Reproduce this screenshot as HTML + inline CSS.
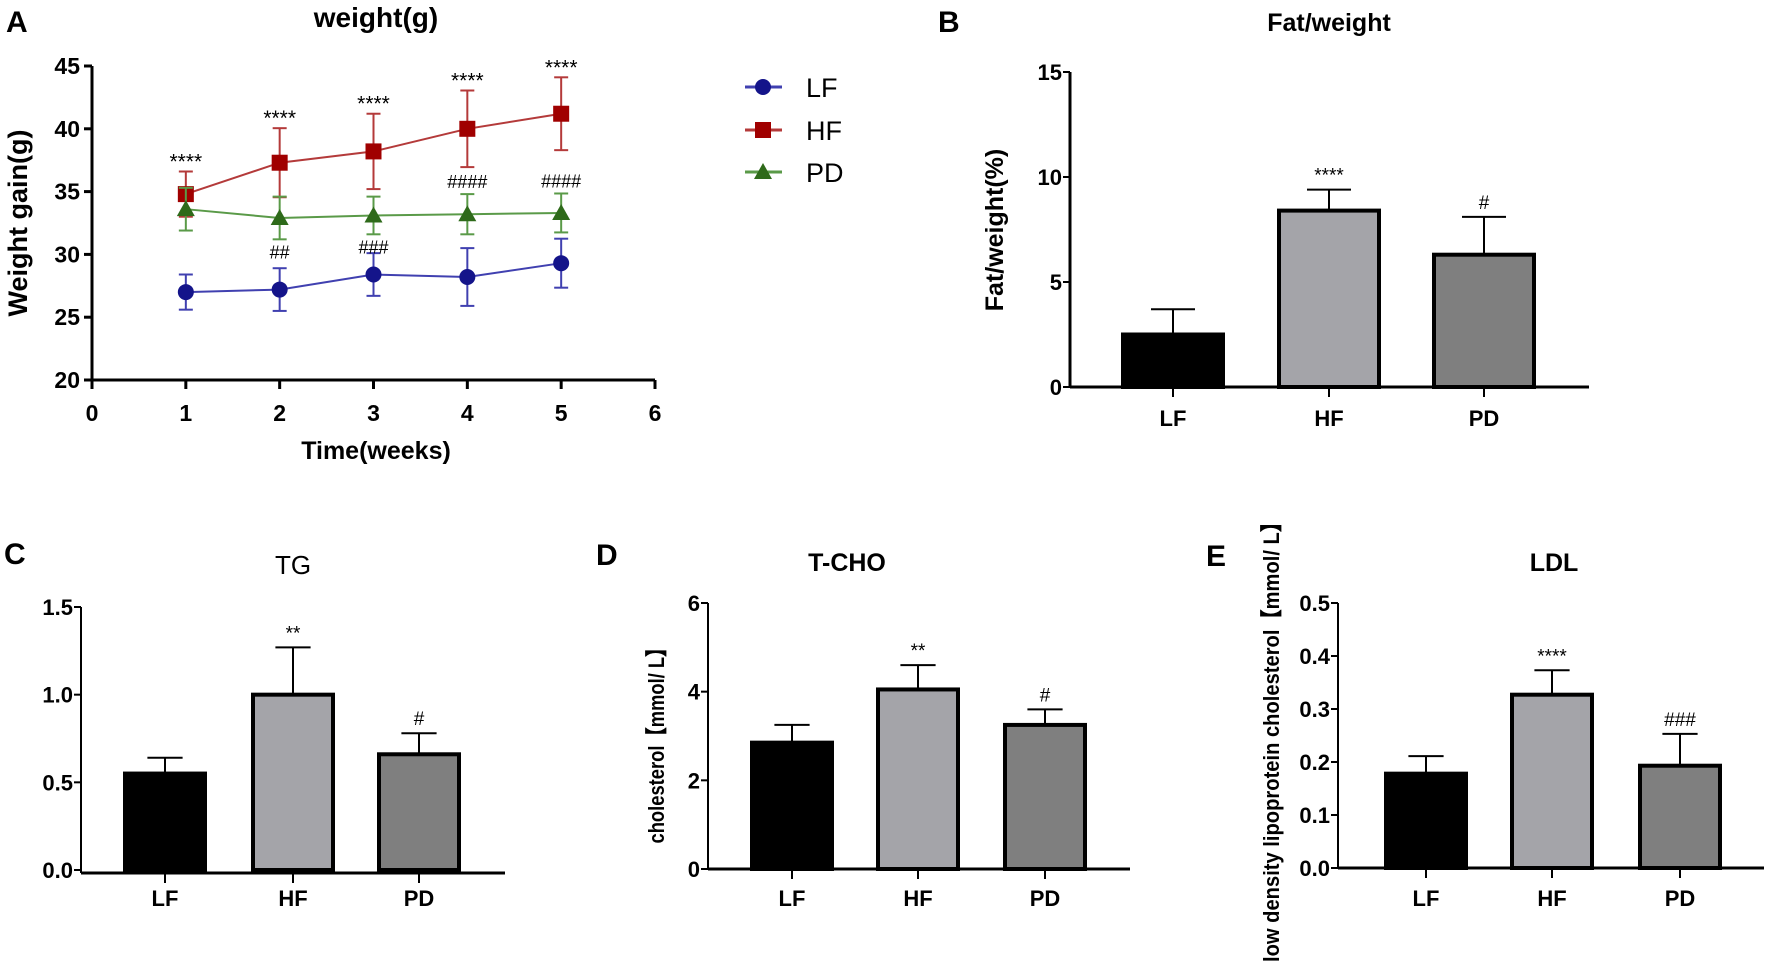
<!DOCTYPE html>
<html><head><meta charset="utf-8">
<style>
html,body{margin:0;padding:0;background:#fff;}
svg{display:block;font-family:"Liberation Sans",Arial,sans-serif;}
</style></head>
<body>
<svg id="fig" width="1772" height="969" viewBox="0 0 1772 969" xmlns="http://www.w3.org/2000/svg"></svg>
<script>
// ---- Panel A data ----
const weeks = [1,2,3,4,5];
const lfMean = [27.0,27.2,28.4,28.2,29.3];
const lfErr  = [1.4,1.7,1.7,2.3,1.95];
const hfMean = [34.8,37.3,38.2,40.0,41.2];
const hfErr  = [1.8,2.75,3.0,3.05,2.9];
const pdMean = [33.6,32.9,33.1,33.2,33.3];
const pdErr  = [1.7,1.7,1.5,1.6,1.55];
const hfSig  = ["****","****","****","****","****"];
const pdSigAbove = ["","","","####","####"];
const pdSigBelow = ["","##","###","",""];
const aYTicks = [20,25,30,35,40,45];
const aXTicks = [0,1,2,3,4,5,6];
// ---- Bar panels data ----
const groups = ["LF","HF","PD"];
const fatMean = [2.5,8.4,6.3];
const fatErr  = [1.2,1.0,1.8];
const fatSig  = ["","****","#"];
const fatTicks = [0,5,10,15];
const tgMean = [0.55,1.0,0.66];
const tgErr  = [0.09,0.27,0.12];
const tgSig  = ["","**","#"];
const tgTicks = ["0.0","0.5","1.0","1.5"];
const tchoMean = [2.85,4.05,3.25];
const tchoErr  = [0.4,0.55,0.35];
const tchoSig  = ["","**","#"];
const tchoTicks = [0,2,4,6];
const ldlMean = [0.178,0.327,0.193];
const ldlErr  = [0.033,0.046,0.06];
const ldlSig  = ["","****","###"];
const ldlTicks = ["0.0","0.1","0.2","0.3","0.4","0.5"];

const NS="http://www.w3.org/2000/svg";
const svg=document.getElementById('fig');
function el(tag,attrs,parent){const e=document.createElementNS(NS,tag);for(const k in attrs)e.setAttribute(k,attrs[k]);(parent||svg).appendChild(e);return e;}
function txt(s,attrs,parent){const t=el('text',attrs,parent);t.textContent=s;return t;}

// ================= Panel A =================
const gA=el('g',{});


const ax0=92, ax6=655, ay20=380, ay45=66;
const sxA=v=>ax0+(ax6-ax0)*v/6;
const syA=v=>ay20+(ay45-ay20)*(v-20)/25;
let t;
t=txt('A',{x:6,y:32,'font-size':30,'font-weight':'bold'},gA);
t=txt('weight(g)',{x:376,y:27,'font-size':28,'font-weight':'bold','text-anchor':'middle'},gA);
let ln=el('line',{x1:ax0,y1:ay45,x2:ax0,y2:ay20,stroke:'#000','stroke-width':3},gA);
ln=el('line',{x1:ax0,y1:ay20,x2:ax6,y2:ay20,stroke:'#000','stroke-width':3},gA);
aYTicks.forEach(v=>{
  el('line',{x1:ax0-8,y1:syA(v),x2:ax0,y2:syA(v),stroke:'#000','stroke-width':3},gA);
  const tl=txt(String(v),{x:ax0-12,y:syA(v)+8,'font-size':23,'font-weight':'bold','text-anchor':'end'},gA);
  
});
aXTicks.forEach(v=>{
  el('line',{x1:sxA(v),y1:ay20,x2:sxA(v),y2:ay20+9,stroke:'#000','stroke-width':3},gA);
  const tl=txt(String(v),{x:sxA(v),y:421,'font-size':23,'font-weight':'bold','text-anchor':'middle'},gA);
  
});
t=txt('Time(weeks)',{x:376,y:459,'font-size':25,'font-weight':'bold','text-anchor':'middle'},gA);
t=txt('Weight gain(g)',{x:0,y:0,'font-size':27,'font-weight':'bold','text-anchor':'middle',transform:'translate(27,223) rotate(-90)'},gA);

const series=[
 {name:'LF',mean:lfMean,err:lfErr,line:'#4040b0',mark:'#14148a',shape:'circle'},
 {name:'HF',mean:hfMean,err:hfErr,line:'#b43a3a',mark:'#a00000',shape:'square'},
 {name:'PD',mean:pdMean,err:pdErr,line:'#5a9a48',mark:'#2e6a1a',shape:'triangle'}
];
function marker(shape,cx,cy,color,parent){
  if(shape==='circle')return el('circle',{cx:cx,cy:cy,r:8,fill:color},parent);
  if(shape==='square')return el('rect',{x:cx-8,y:cy-8,width:16,height:16,fill:color},parent);
  return el('polygon',{points:`${cx},${cy-9} ${cx+9},${cy+7} ${cx-9},${cy+7}`,fill:color},parent);
}
series.forEach(s=>{
  const g=el('g',{},gA);
  
  
  const pts=weeks.map((w,i)=>sxA(w)+','+syA(s.mean[i])).join(' ');
  const pl=el('polyline',{points:pts,fill:'none',stroke:s.line,'stroke-width':2},g);
  
  
  weeks.forEach((w,i)=>{
    const x=sxA(w),y=syA(s.mean[i]);
    const lo=syA(s.mean[i]-s.err[i]),hi=syA(s.mean[i]+s.err[i]);
    el('line',{x1:x,y1:lo,x2:x,y2:hi,stroke:s.line,'stroke-width':2},g);
    el('line',{x1:x-7,y1:lo,x2:x+7,y2:lo,stroke:s.line,'stroke-width':2},g);
    el('line',{x1:x-7,y1:hi,x2:x+7,y2:hi,stroke:s.line,'stroke-width':2},g);
    const m=marker(s.shape,x,y,s.mark,g);
    
    
  });
});
weeks.forEach((w,i)=>{
  const x=sxA(w);
  if(hfSig[i]){const a=txt(hfSig[i],{x:x,y:syA(hfMean[i]+hfErr[i])-3,'font-size':21,'text-anchor':'middle'},gA);}
  if(pdSigAbove[i]){const a=txt(pdSigAbove[i],{x:x,y:syA(pdMean[i]+pdErr[i])-6,'font-size':18,'text-anchor':'middle'},gA);}
  if(pdSigBelow[i]){const a=txt(pdSigBelow[i],{x:x,y:syA(pdMean[i]-pdErr[i])+19,'font-size':18,'text-anchor':'middle'},gA);}
});
// legend
const legY=[87,130,172];
series.forEach((s,i)=>{
  const g=el('g',{},gA);
  
  
  el('line',{x1:745,y1:legY[i],x2:782,y2:legY[i],stroke:s.line,'stroke-width':3},g);
  marker(s.shape,763,legY[i],s.mark,g);
  txt(s.name,{x:806,y:legY[i]+10,'font-size':27},g);
});

// ================= Bar panels =================
const fills=['#000000','#a4a4a9','#7f7f7f'];
function barPanel(o){
  const g=el('g',{});
  
  
  const sy=v=>o.y0+(o.yTop-o.y0)*v/o.max;
  let e=txt(o.letter,{x:o.lx,y:o.ly,'font-size':30,'font-weight':'bold'},g);
  
  e=txt(o.title,{x:o.tx,y:o.ty,'font-size':o.tsize,'font-weight':o.tbold?'bold':'normal','text-anchor':'middle'},g);
  
  e=el('line',{x1:o.ax,y1:o.yTop,x2:o.ax,y2:o.y0+o.xoff,stroke:'#000','stroke-width':o.aw},g);
  
  e=el('line',{x1:o.ax,y1:o.y0+o.xoff,x2:o.axEnd,y2:o.y0+o.xoff,stroke:'#000','stroke-width':3},g);
  
  o.ticks.forEach(tk=>{
    const v=parseFloat(tk),y=sy(v);
    el('line',{x1:o.ax-7,y1:y,x2:o.ax,y2:y,stroke:'#000','stroke-width':2},g);
    const tl=txt(String(tk),{x:o.ax-8,y:y+8,'font-size':22,'font-weight':'bold','text-anchor':'end'},g);
    
  });
  o.means.forEach((m,i)=>{
    const cx=o.centers[i],w=o.bw;
    const top=sy(m),et=sy(m+o.errs[i]);
    el('line',{x1:cx,y1:top,x2:cx,y2:et,stroke:'#000','stroke-width':2},g);
    el('line',{x1:cx-w*0.22,y1:et,x2:cx+w*0.22,y2:et,stroke:'#000','stroke-width':2},g);
    const b=el('rect',{x:cx-w/2,y:top,width:w,height:o.y0-top,fill:fills[i],stroke:'#000','stroke-width':4},g);
    
    
    if(o.sig[i]){const a=txt(o.sig[i],{x:cx,y:et-8,'font-size':19,'text-anchor':'middle'},g);}
    el('line',{x1:cx,y1:o.y0+o.xoff,x2:cx,y2:o.y0+o.xoff+10,stroke:'#000','stroke-width':2},g);
    const cl=txt(groups[i],{x:cx,y:o.catY,'font-size':22,'font-weight':'bold','text-anchor':'middle'},g);
    
  });
  if(o.ytitle){
    const at={x:0,y:0,'font-size':o.ysize,'font-weight':'bold','text-anchor':'middle',transform:`translate(${o.ytx},${o.yty}) rotate(-90)`};
    if(o.ylen){at.textLength=o.ylen;at.lengthAdjust='spacingAndGlyphs';}
    const yt=txt(o.ytitle,at,g);
    
  }
}
barPanel({name:'panel-b-fat-weight',letter:'B',lx:938,ly:32,title:'Fat/weight',tx:1329,ty:31,tsize:25,tbold:true,
  ax:1070,axEnd:1589,y0:387,yTop:72,max:15,xoff:0,aw:3,ticks:fatTicks,means:fatMean,errs:fatErr,sig:fatSig,
  centers:[1173,1329,1484],bw:100,catY:426,ytitle:'Fat/weight(%)',ysize:25,ytx:1003,yty:230});
barPanel({name:'panel-c-tg',letter:'C',lx:4,ly:564,title:'TG',tx:293,ty:574,tsize:26,tbold:false,
  ax:81,axEnd:505,y0:870,yTop:607,max:1.5,xoff:3,aw:2,ticks:tgTicks,means:tgMean,errs:tgErr,sig:tgSig,
  centers:[165,293,419],bw:80,catY:906});
barPanel({name:'panel-d-tcho',letter:'D',lx:596,ly:565,title:'T-CHO',tx:847,ty:571,tsize:25,tbold:true,
  ax:708,axEnd:1130,y0:869,yTop:603,max:6,xoff:0,aw:2,ticks:tchoTicks,means:tchoMean,errs:tchoErr,sig:tchoSig,
  centers:[792,918,1045],bw:80,catY:906,ytitle:'cholesterol\u3010mmol/ L\u3011',ysize:22,ylen:205,ytx:664,yty:741});
barPanel({name:'panel-e-ldl',letter:'E',lx:1206,ly:566,title:'LDL',tx:1554,ty:571,tsize:25,tbold:true,
  ax:1338,axEnd:1764,y0:868,yTop:603,max:0.5,xoff:0,aw:2,ticks:ldlTicks,means:ldlMean,errs:ldlErr,sig:ldlSig,
  centers:[1426,1552,1680],bw:80,catY:906,ytitle:'low density  lipoprotein cholesterol\u3010mmol/ L\u3011',ysize:22,ylen:450,ytx:1279,yty:737});
</script>
</body></html>
